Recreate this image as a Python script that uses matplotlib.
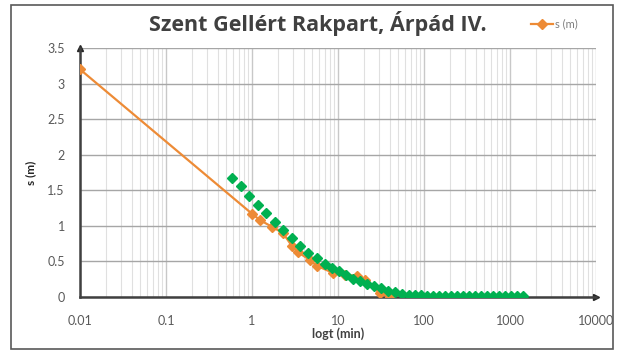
import matplotlib
matplotlib.use("Agg")
import matplotlib.pyplot as plt
from matplotlib.patches import Rectangle
from matplotlib.ticker import FixedLocator, LogLocator, NullFormatter

plt.rcParams['font.family'] = ['Lato', 'DejaVu Sans']

# Orange series s (m) with line
t_orange = [0.01, 1.0, 1.24, 1.69, 2.29, 2.9, 3.43, 4.7, 5.65, 8.7, 12.0, 16.5, 20.6, 30.8, 40.0]
s_orange = [3.2, 1.17, 1.08, 0.99, 0.90, 0.72, 0.63, 0.52, 0.44, 0.34, 0.31, 0.30, 0.24, 0.05, 0.0]

# Green series (markers only)
t_green = [0.59, 0.74, 0.93, 1.16, 1.46, 1.83, 2.3, 2.9, 3.6, 4.5, 5.7, 7.1,
           8.5, 10.3, 12.4, 14.9, 18.0, 21.7, 26.2, 31.6, 38.1, 46.0, 55.5, 67.0,
           78.6, 92.2, 108, 127, 149, 175, 206, 242, 284, 333, 392, 460, 540,
           634, 745, 875, 1027, 1206, 1416]
s_green = [1.67, 1.56, 1.42, 1.30, 1.18, 1.05, 0.94, 0.83, 0.72, 0.62, 0.55, 0.46,
           0.41, 0.36, 0.31, 0.26, 0.22, 0.18, 0.15, 0.12, 0.09, 0.065, 0.045, 0.03,
           0.025, 0.022, 0.02, 0.02, 0.018, 0.018, 0.017, 0.016, 0.016, 0.015, 0.015,
           0.014, 0.014, 0.014, 0.013, 0.013, 0.013, 0.012, 0.012]

x_ticks = [0.01, 0.1, 1, 10, 100, 1000, 10000]
x_ticklabels = ["0.01", "0.1", "1", "10", "100", "1000", "10000"]
y_ticks = [0, 0.5, 1, 1.5, 2, 2.5, 3, 3.5]
y_ticklabels = ["0", "0.5", "1", "1.5", "2", "2.5", "3", "3.5"]

W, H = 617, 352
fig = plt.figure(figsize=(W / 100, H / 100), dpi=100)
fig.patch.set_facecolor("white")
fig.patches.append(Rectangle((11 / W, 1 - 349 / H), (613 - 11) / W, (349 - 5) / H,
                             transform=fig.transFigure, fill=False,
                             edgecolor="#595959", linewidth=1.2))

ax = fig.add_axes([80 / W, 1 - 297 / H, (596 - 80) / W, (297 - 48) / H])
ax.set_xscale("log")
ax.set_xlim(0.01, 10000)
ax.set_ylim(0, 3.5)

ax.xaxis.set_major_locator(FixedLocator(x_ticks))
ax.set_xticklabels(x_ticklabels)
ax.xaxis.set_minor_locator(LogLocator(base=10, subs=[2, 3, 4, 5, 6, 7, 8, 9], numticks=20))
ax.xaxis.set_minor_formatter(NullFormatter())
ax.set_yticks(y_ticks)
ax.set_yticklabels(y_ticklabels)

ax.grid(True, which="minor", axis="x", color="#e0e0e0", linewidth=0.8)
ax.grid(True, which="major", axis="x", color="#c8c8c8", linewidth=1.0)
ax.grid(True, which="major", axis="y", color="#a6a6a6", linewidth=1.0)
ax.set_axisbelow(True)

for sp in ["top", "right"]:
    ax.spines[sp].set_visible(False)
for sp in ["left", "bottom"]:
    ax.spines[sp].set_color("#404040")
    ax.spines[sp].set_linewidth(1.8)

ax.tick_params(which="both", length=0)
ax.tick_params(axis="y", pad=11, labelsize=9, labelcolor="#595959")
ax.tick_params(axis="x", pad=13, labelsize=9, labelcolor="#595959")

# axis arrows
ax.plot([0], [1], marker="^", color="#262626", markersize=5, transform=ax.transAxes, clip_on=False)
ax.plot([1], [0], marker=">", color="#262626", markersize=5, transform=ax.transAxes, clip_on=False)

ax.plot(t_orange, s_orange, color="#ed8b36", linewidth=1.6, marker="D",
        markersize=4.8, label="s (m)", zorder=3)
ax.plot(t_green, s_green, linestyle="none", marker="D", markersize=5.2,
        color="#00b050", zorder=4)

ax.set_xlabel("logt (min)", fontsize=9, fontweight="bold", color="#404040", labelpad=0)
ax.set_ylabel("s (m)", fontsize=8.5, fontweight="bold", color="#262626", labelpad=8)

fig.text(318 / W, 1 - 23 / H, "Szent Gellért Rakpart, Árpád IV.", ha="center", va="center",
         fontsize=15.5, fontweight="bold", color="#404040", family=["Open Sans", "DejaVu Sans"])

leg = ax.legend(loc="center left", bbox_to_anchor=(525 / W, 1 - 24 / H),
                bbox_transform=fig.transFigure, frameon=False, fontsize=8,
                handlelength=2.0, handletextpad=0.2, borderpad=0, labelcolor="#7f7f7f")

fig.savefig("out.png", dpi=100, facecolor="white")
